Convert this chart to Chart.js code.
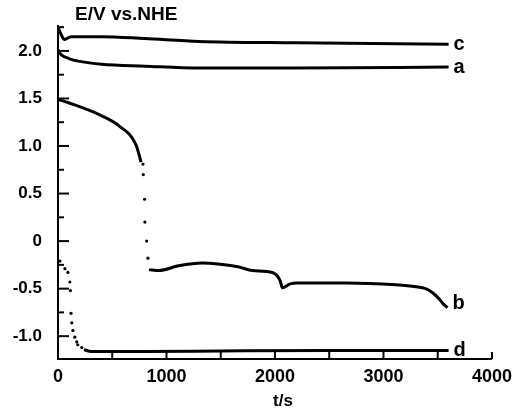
<!DOCTYPE html>
<html>
<head>
<meta charset="utf-8">
<script src="https://cdn.jsdelivr.net/npm/chart.js@4/dist/chart.umd.min.js"></script>
<style>
  html, body { margin: 0; padding: 0; background: #fff; }
  #wrap { width: 519px; height: 410px; }
</style>
</head>
<body>
<div id="wrap"><canvas id="potChart" width="519" height="410"></canvas></div>
<script>
// curve c
const cT = [0, 30, 60, 120, 400, 800, 1300, 2200, 3600];
const cV = [2.25, 2.17, 2.12, 2.15, 2.15, 2.13, 2.10, 2.085, 2.07];
// curve a
const aT = [0, 30, 100, 200, 400, 800, 1300, 2200, 3600];
const aV = [2.01, 1.96, 1.92, 1.89, 1.86, 1.84, 1.82, 1.82, 1.83];
// curve b, first solid part, dotted drop, second solid part
const b1T = [0, 110, 380, 565, 720, 755, 765];
const b1V = [1.49, 1.45, 1.33, 1.21, 1.01, 0.875, 0.83];
const bDotT = [783, 786, 798, 801, 817, 829];
const bDotV = [0.81, 0.70, 0.44, 0.20, 0.0, -0.18];
const b2T = [838, 929, 1111, 1330, 1475, 1658, 1794, 1976, 2049, 2067, 2140, 2204, 2660, 3115, 3300, 3388, 3450, 3506, 3550, 3590];
const b2V = [-0.30, -0.31, -0.26, -0.23, -0.24, -0.27, -0.31, -0.33, -0.42, -0.49, -0.45, -0.44, -0.44, -0.46, -0.48, -0.50, -0.54, -0.60, -0.66, -0.70];
// curve d, dotted start then solid
const dDotT = [18, 64, 91, 109, 115, 120, 127, 137, 155, 173, 182, 219];
const dDotV = [-0.21, -0.29, -0.33, -0.43, -0.52, -0.76, -0.86, -0.94, -1.01, -1.06, -1.09, -1.12];
const d2T = [240, 264, 300, 800, 1500, 2500, 3600];
const d2V = [-1.14, -1.15, -1.16, -1.16, -1.155, -1.15, -1.15];

const yLabels = [-1.0, -0.5, 0, 0.5, 1.0, 1.5, 2.0];
const yMinor = [-0.75, -0.25, 0.25, 0.75, 1.25, 1.75, 2.25];
const xLabels = [0, 1000, 2000, 3000, 4000];
const xMinor = [500, 1500, 2500, 3500];

const curveNames = ['c', 'a', 'b', 'd'];

function pts(ts, vs) {
    return ts.map((t, i) => ({ x: t, y: vs[i] }));
}

const FONT = "'Liberation Sans', Arial, Helvetica, sans-serif";

function solid(ts, vs, name) {
    return {
        label: name,
        data: pts(ts, vs),
        showLine: true,
        borderColor: '#000',
        borderWidth: 3,
        pointRadius: 0,
        tension: 0.35,
        cubicInterpolationMode: 'monotone'
    };
}
function dotted(ts, vs) {
    return {
        label: '',
        data: pts(ts, vs),
        showLine: false,
        pointRadius: 1.6,
        pointBackgroundColor: '#000',
        pointBorderWidth: 0
    };
}

const datasets = [
    solid(cT, cV, 'c'),
    solid(aT, aV, 'a'),
    solid(b1T, b1V, ''),
    dotted(bDotT, bDotV),
    solid(b2T, b2V, 'b'),
    dotted(dDotT, dDotV),
    solid(d2T, d2V, 'd')
];

const decorations = {
    id: 'decorations',
    afterDraw(chart) {
        const ctx = chart.ctx;
        const xs = chart.scales.x, ys = chart.scales.y;
        const left = chart.chartArea.left, bottom = chart.chartArea.bottom;
        ctx.save();
        ctx.strokeStyle = '#000';
        ctx.lineWidth = 2;
        // inward ticks
        yLabels.forEach(v => {
            const py = ys.getPixelForValue(v);
            ctx.beginPath(); ctx.moveTo(left, py); ctx.lineTo(left + 11, py); ctx.stroke();
        });
        yMinor.forEach(v => {
            const py = ys.getPixelForValue(v);
            ctx.beginPath(); ctx.moveTo(left, py); ctx.lineTo(left + 6, py); ctx.stroke();
        });
        xLabels.concat(xMinor).forEach(v => {
            const px = xs.getPixelForValue(v);
            ctx.beginPath(); ctx.moveTo(px, bottom); ctx.lineTo(px, bottom - 7); ctx.stroke();
        });
        // curve labels
        ctx.fillStyle = '#000';
        ctx.font = 'bold 20px ' + FONT;
        ctx.textBaseline = 'middle';
        ctx.textAlign = 'left';
        chart.data.datasets.forEach(ds => {
            if (!curveNames.includes(ds.label)) return;
            const last = ds.data[ds.data.length - 1];
            const px = xs.getPixelForValue(last.x) + 5;
            let py = ys.getPixelForValue(last.y);
            if (ds.label === 'b') py -= 4;
            ctx.fillText(ds.label, px, py);
        });
        // axis titles
        ctx.font = 'bold 19px ' + FONT;
        ctx.textBaseline = 'middle';
        ctx.fillText('E/V vs.NHE', left + 17, 15);
        ctx.font = 'bold 17px ' + FONT;
        ctx.textAlign = 'center';
        ctx.fillText('t/s', 283, 401);
        ctx.restore();
    }
};

const chart = new Chart(document.getElementById('potChart').getContext('2d'), {
    type: 'scatter',
    data: { datasets: datasets },
    options: {
        responsive: false,
        animation: false,
        layout: { padding: { top: 22, right: 22, bottom: 0, left: 0 } },
        plugins: { legend: { display: false }, tooltip: { enabled: false } },
        scales: {
            x: {
                type: 'linear',
                min: 0,
                max: 4000,
                afterBuildTicks: s => { s.ticks = xLabels.map(v => ({ value: v })); },
                afterFit: s => { s.height = 51; },
                grid: { display: false, drawTicks: false },
                border: { display: true, color: '#000', width: 2 },
                ticks: {
                    color: '#000',
                    padding: 7,
                    maxRotation: 0,
                    font: { family: FONT, size: 18, weight: 'bold' },
                    callback: v => String(v)
                }
            },
            y: {
                type: 'linear',
                min: -1.24,
                max: 2.26,
                afterBuildTicks: s => { s.ticks = yLabels.map(v => ({ value: v })); },
                afterFit: s => { s.width = 58; },
                grid: { display: false, drawTicks: false },
                border: { display: true, color: '#000', width: 2 },
                ticks: {
                    color: '#000',
                    padding: 16,
                    font: { family: FONT, size: 17, weight: 'bold' },
                    callback: v => (v === 0 ? '0' : v.toFixed(1))
                }
            }
        }
    },
    plugins: [decorations]
});
</script>
</body>
</html>
